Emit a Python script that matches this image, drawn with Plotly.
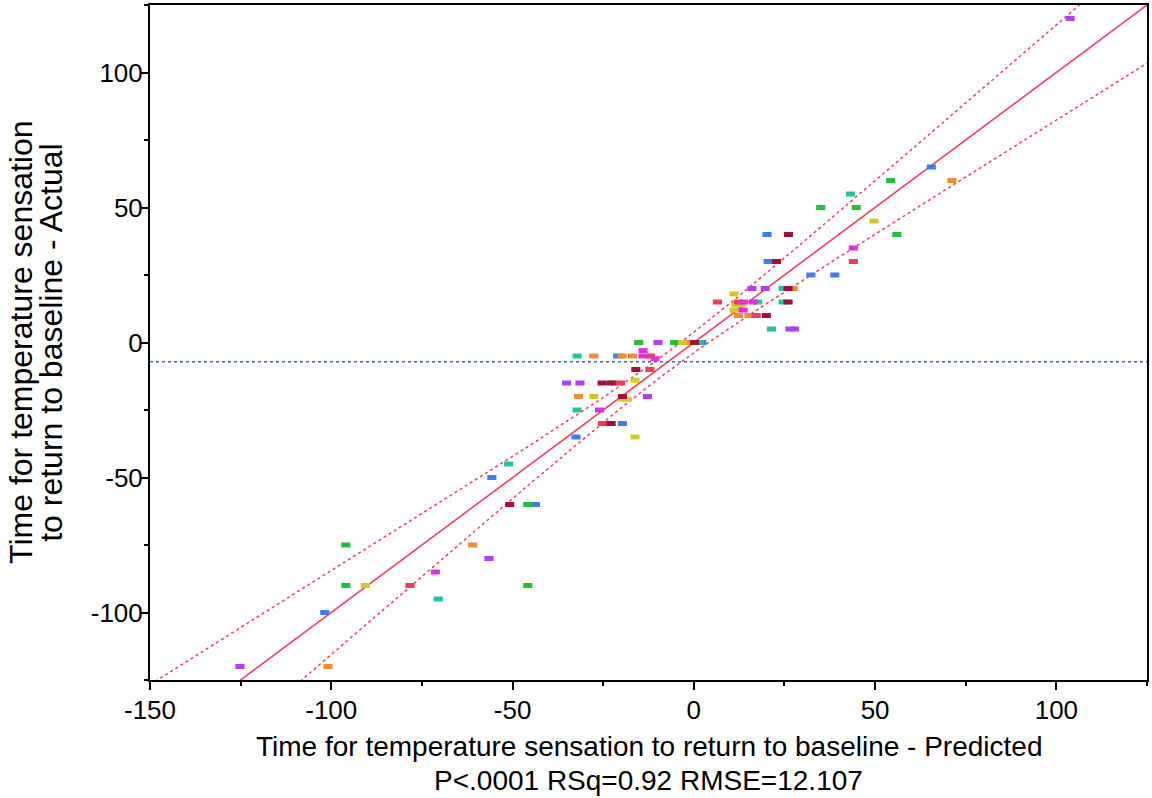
import numpy as np
import plotly.graph_objects as go

# ---------------- data ----------------
predicted = [
    # blue
    65.5, 20.2, 20.5, 32.3, 38.9, 2.2, -21.0, -19.7, -32.5, -55.7, -43.7, -101.8,
    # green
    54.3, 35.0, 44.8, 56.0, -15.2, -5.3, -45.8, -96.0, -96.0, -45.8,
    # teal
    43.2, 24.6, 17.6, 24.6, 21.4, 1.5, -32.2, -22.1, -32.2, -51.1, -70.5,
    # orange
    71.2, 27.4, 12.3, 15.2, -1.8, -27.6, -19.8, -16.9, -31.8, -61.0, -100.9,
    # yellow
    49.7, 11.1, 11.6, 13.0, 11.1, -3.1, -16.2, -27.6, -19.7, -18.4, -16.2, -90.6,
    # red
    44.0, 6.5, 12.3, 17.2, -11.9, -12.1, -20.2, -25.2, -78.3,
    # dark red
    26.1, 22.8, 26.0, 26.0, 20.0, 0.2, -16.0, -25.3, -22.8, -19.7, -22.8, -50.8,
    # purple
    103.8, 16.0, 19.7, 26.5, 27.8, -9.9, -35.1, -31.4, -12.8, -56.5, -125.2,
    # magenta
    44.0, 13.7, 16.4, 13.6, -14.0, -14.0, -10.7, -26.0, -71.3,
]
actual = [
    65, 40, 30, 25, 25, 0, -5, -30, -35, -50, -60, -100,
    60, 50, 50, 40, 0, 0, -60, -75, -90, -90,
    55, 20, 15, 15, 5, 0, -5, -15, -25, -45, -95,
    60, 20, 10, 10, 0, -5, -5, -5, -20, -75, -120,
    45, 18, 14, 14, 12, 0, -14, -20, -21, -21, -35, -90,
    30, 15, 15, 10, -5, -10, -15, -30, -90,
    40, 30, 20, 15, 10, 0, -10, -15, -15, -20, -30, -60,
    120, 20, 20, 5, 5, 0, -15, -15, -20, -80, -120,
    35, 15, 15, 12, -3, -5, -6, -25, -85,
]
group = (["blue"] * 12 + ["green"] * 10 + ["teal"] * 11 + ["orange"] * 11 +
         ["yellow"] * 12 + ["red"] * 9 + ["darkred"] * 12 + ["purple"] * 11 +
         ["magenta"] * 9)

mean_actual = -7.1          # horizontal mean line
band_a, band_b = 3.6, 0.161  # confidence curve shape

x_range = [-150, 125]
y_range = [-125, 125]
x_tickvals = [-150, -100, -50, 0, 50, 100]
x_ticktext = ["-150", "-100", "-50", "0", "50", "100"]
x_minorvals = [-125, -75, -25, 25, 75, 125]
y_tickvals = [-100, -50, 0, 50, 100]
y_ticktext = ["-100", "-50", "0", "50", "100"]
y_minorvals = [-125, -75, -25, 25, 75, 125]

colors = {
    "blue": "#3C7EEC", "green": "#22C03A", "teal": "#22C49A",
    "orange": "#EE8C38", "yellow": "#D4C828", "red": "#F03C5C",
    "darkred": "#A0103A", "purple": "#B040F2", "magenta": "#E030E0",
}
red_line = "#F0405C"
font = "Liberation Sans, Arial, sans-serif"

fig = go.Figure()

# confidence curves
xs = np.linspace(x_range[0], x_range[1], 300)
half = np.sqrt(band_a ** 2 + band_b ** 2 * (xs - mean_actual) ** 2)
for sign in (1, -1):
    fig.add_trace(go.Scatter(x=xs, y=xs + sign * half, mode="lines",
                             line=dict(color=red_line, width=1.5, dash="dot"),
                             hoverinfo="skip", showlegend=False))

# fit line actual = predicted
fig.add_trace(go.Scatter(x=x_range, y=x_range, mode="lines",
                         line=dict(color=red_line, width=1.6),
                         hoverinfo="skip", showlegend=False))

# mean line
fig.add_trace(go.Scatter(x=x_range, y=[mean_actual, mean_actual], mode="lines",
                         line=dict(color="#3A62D8", width=1.5, dash="dot"),
                         hoverinfo="skip", showlegend=False))

# points
for g in colors:
    px_ = [p for p, gg in zip(predicted, group) if gg == g]
    py_ = [a for a, gg in zip(actual, group) if gg == g]
    fig.add_trace(go.Scatter(x=px_, y=py_, mode="markers", name=g,
                             marker=dict(symbol="line-ew", size=6.5, color=colors[g],
                                         line=dict(width=5, color=colors[g])),
                             showlegend=False))

axis_common = dict(
    showline=True, linecolor="black", linewidth=2, mirror=True,
    ticks="outside", ticklen=8, tickwidth=1.5, tickcolor="black",
    showgrid=False, zeroline=False, tickmode="array",
    tickfont=dict(family=font, size=26, color="black"),
)

fig.update_xaxes(range=x_range, tickvals=x_tickvals, ticktext=x_ticktext,
                 ticklabelstandoff=-2,
                 minor=dict(ticks="outside", ticklen=4, tickwidth=1.5, tickcolor="black",
                            tickmode="array", tickvals=x_minorvals, showgrid=False),
                 **axis_common)
fig.update_yaxes(range=y_range, tickvals=y_tickvals, ticktext=y_ticktext,
                 ticklabelstandoff=-8,
                 minor=dict(ticks="outside", ticklen=4, tickwidth=1.5, tickcolor="black",
                            tickmode="array", tickvals=y_minorvals, showgrid=False),
                 **axis_common)

title_font = dict(family=font, size=28, color="black")
ytitle_font = dict(family=font, size=32, color="black")
annotations = [
    dict(text="Time for temperature sensation to return to baseline - Predicted",
         xref="paper", yref="paper", x=0.5, y=-0.099, xanchor="center",
         yanchor="middle", showarrow=False, font=title_font),
    dict(text="P<.0001 RSq=0.92 RMSE=12.107",
         xref="paper", yref="paper", x=0.5, y=-0.149, xanchor="center",
         yanchor="middle", showarrow=False, font=title_font),
    dict(text="Time for temperature sensation",
         xref="paper", yref="paper", x=-0.130, y=0.5, xanchor="center",
         yanchor="middle", textangle=-90, showarrow=False, font=ytitle_font),
    dict(text="to return to baseline - Actual",
         xref="paper", yref="paper", x=-0.100, y=0.5, xanchor="center",
         yanchor="middle", textangle=-90, showarrow=False, font=ytitle_font),
]

fig.update_layout(
    width=1152, height=798,
    margin=dict(l=150, r=3, t=5, b=118),
    plot_bgcolor="white", paper_bgcolor="white",
    annotations=annotations,
    font=dict(family=font, color="black"),
)

fig.write_html("out.html", config={"displayModeBar": False},
               post_script="document.body.style.margin='0';")
